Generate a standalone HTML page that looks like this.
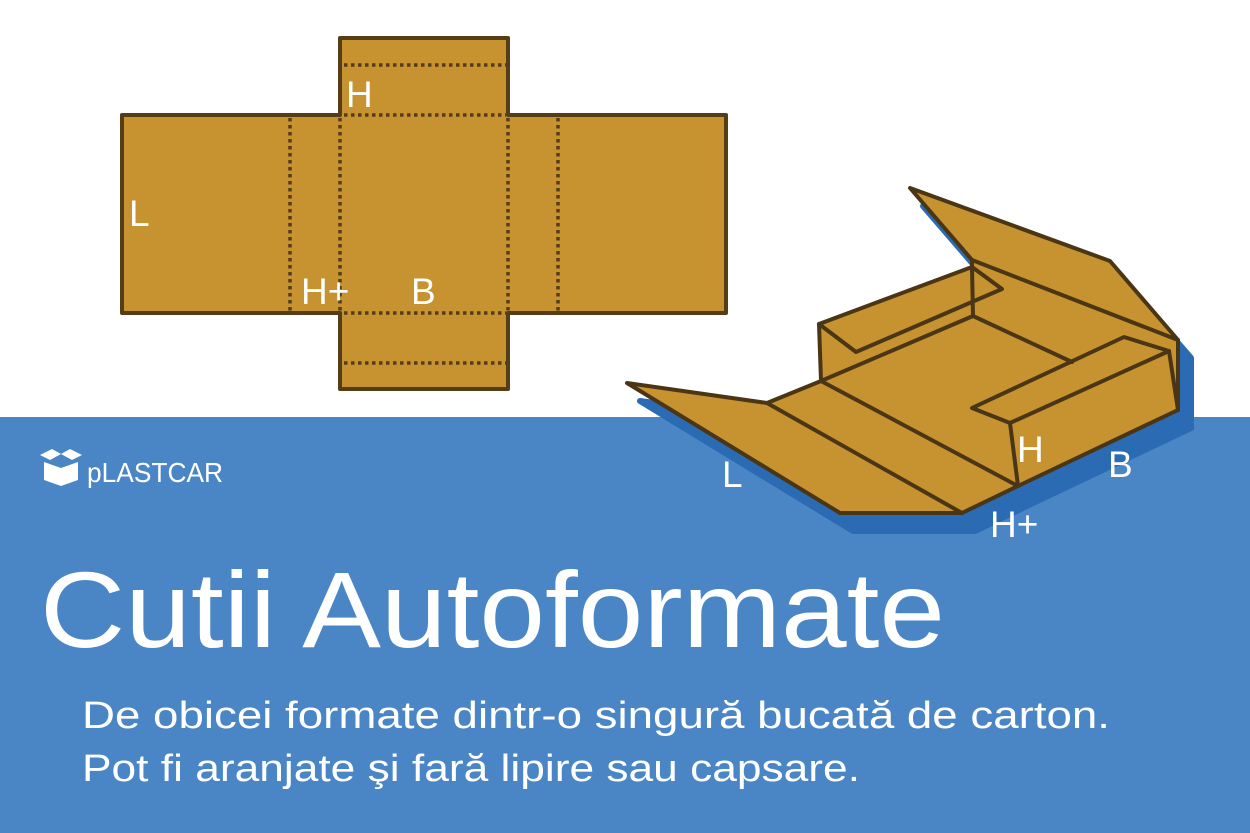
<!DOCTYPE html>
<html><head><meta charset="utf-8"><style>html,body{margin:0;padding:0;background:#fff}svg{display:block}</style></head>
<body>
<svg width="1250" height="833" viewBox="0 0 1250 833" xmlns="http://www.w3.org/2000/svg" font-family="'Liberation Sans', sans-serif">
<rect x="0" y="417" width="1250" height="416" fill="#4a86c6"/>
<!-- net -->
<g stroke="#553d18" stroke-linejoin="round">
<path d="M122,115 H340 V38 H508 V115 H726 V313 H508 V389 H340 V313 H122 Z" fill="#c69330" stroke-width="4"/>
<g stroke-width="3.5" stroke-dasharray="3.5 3.5" fill="none">
<line x1="344" y1="65" x2="506" y2="65"/>
<line x1="344" y1="115" x2="506" y2="115"/>
<line x1="344" y1="313" x2="506" y2="313"/>
<line x1="344" y1="363" x2="506" y2="363"/>
<line x1="290" y1="118" x2="290" y2="311"/>
<line x1="340" y1="118" x2="340" y2="311"/>
<line x1="508" y1="118" x2="508" y2="311"/>
<line x1="558" y1="118" x2="558" y2="311"/>
</g></g>
<g fill="#fff" font-size="37">
<text x="346" y="107">H</text>
<text x="129" y="226">L</text>
<text x="301" y="304">H+</text>
<text x="411" y="304">B</text>
</g>
<!-- 3D box shadow -->
<path transform="translate(13,18)" d="M627,383 L767,403 L821,381 L819,324 L972,267 L972,260 L910,188 L1110,261 L1178,340 L1178,410 L1018,486 L962,513 L840,513 Z" fill="#2a6bb3" stroke="#2a6bb3" stroke-width="6" stroke-linejoin="round"/>
<g stroke="#4a3515" stroke-width="4" stroke-linejoin="round" stroke-linecap="round" fill="none">
<path d="M627,383 L767,403 L821,381 L819,324 L972,267 L972,260 L910,188 L1110,261 L1178,340 L1178,410 L1018,486 L962,513 L840,513 Z" fill="#c69330"/>
<path d="M767,403 L962,513"/>
<path d="M821,381 L1018,486"/>
<path d="M1018,486 L1010,423 L1169,351 L1178,410"/>
<path d="M1010,423 L972,408 L1124,337 L1169,351"/>
<path d="M819,324 L856,352 L1002,289 L972,267"/>
<path d="M821,381 L973,316 L972,267"/>
<path d="M973,316 L1072,362"/>
<path d="M972,260 L1178,340"/>
</g>
<g fill="#fff" font-size="37">
<text x="1017" y="462">H</text>
<text x="1108" y="477">B</text>
<text x="722" y="487">L</text>
<text x="990" y="537">H+</text>
</g>
<!-- logo -->
<g fill="#fff">
<path d="M44,462 L61,468 L78,462 L78,480 L61,486 L44,480 Z"/>
<path d="M40,455 L52,449 L61,454 L50,460 Z"/>
<path d="M82,455 L70,449 L61,454 L72,460 Z"/>
</g>
<text x="87" y="482" fill="#fff" font-size="28" textLength="136" lengthAdjust="spacingAndGlyphs">pLASTCAR</text>
<!-- texts -->
<text x="40" y="647" fill="#fff" font-size="108" textLength="905" lengthAdjust="spacingAndGlyphs">Cutii Autoformate</text>
<text x="82" y="728" fill="#fff" font-size="38" textLength="1028" lengthAdjust="spacingAndGlyphs">De obicei formate dintr-o singură bucată de carton.</text>
<text x="82" y="781" fill="#fff" font-size="38" textLength="778" lengthAdjust="spacingAndGlyphs">Pot fi aranjate şi fară lipire sau capsare.</text>
</svg>
</body></html>
